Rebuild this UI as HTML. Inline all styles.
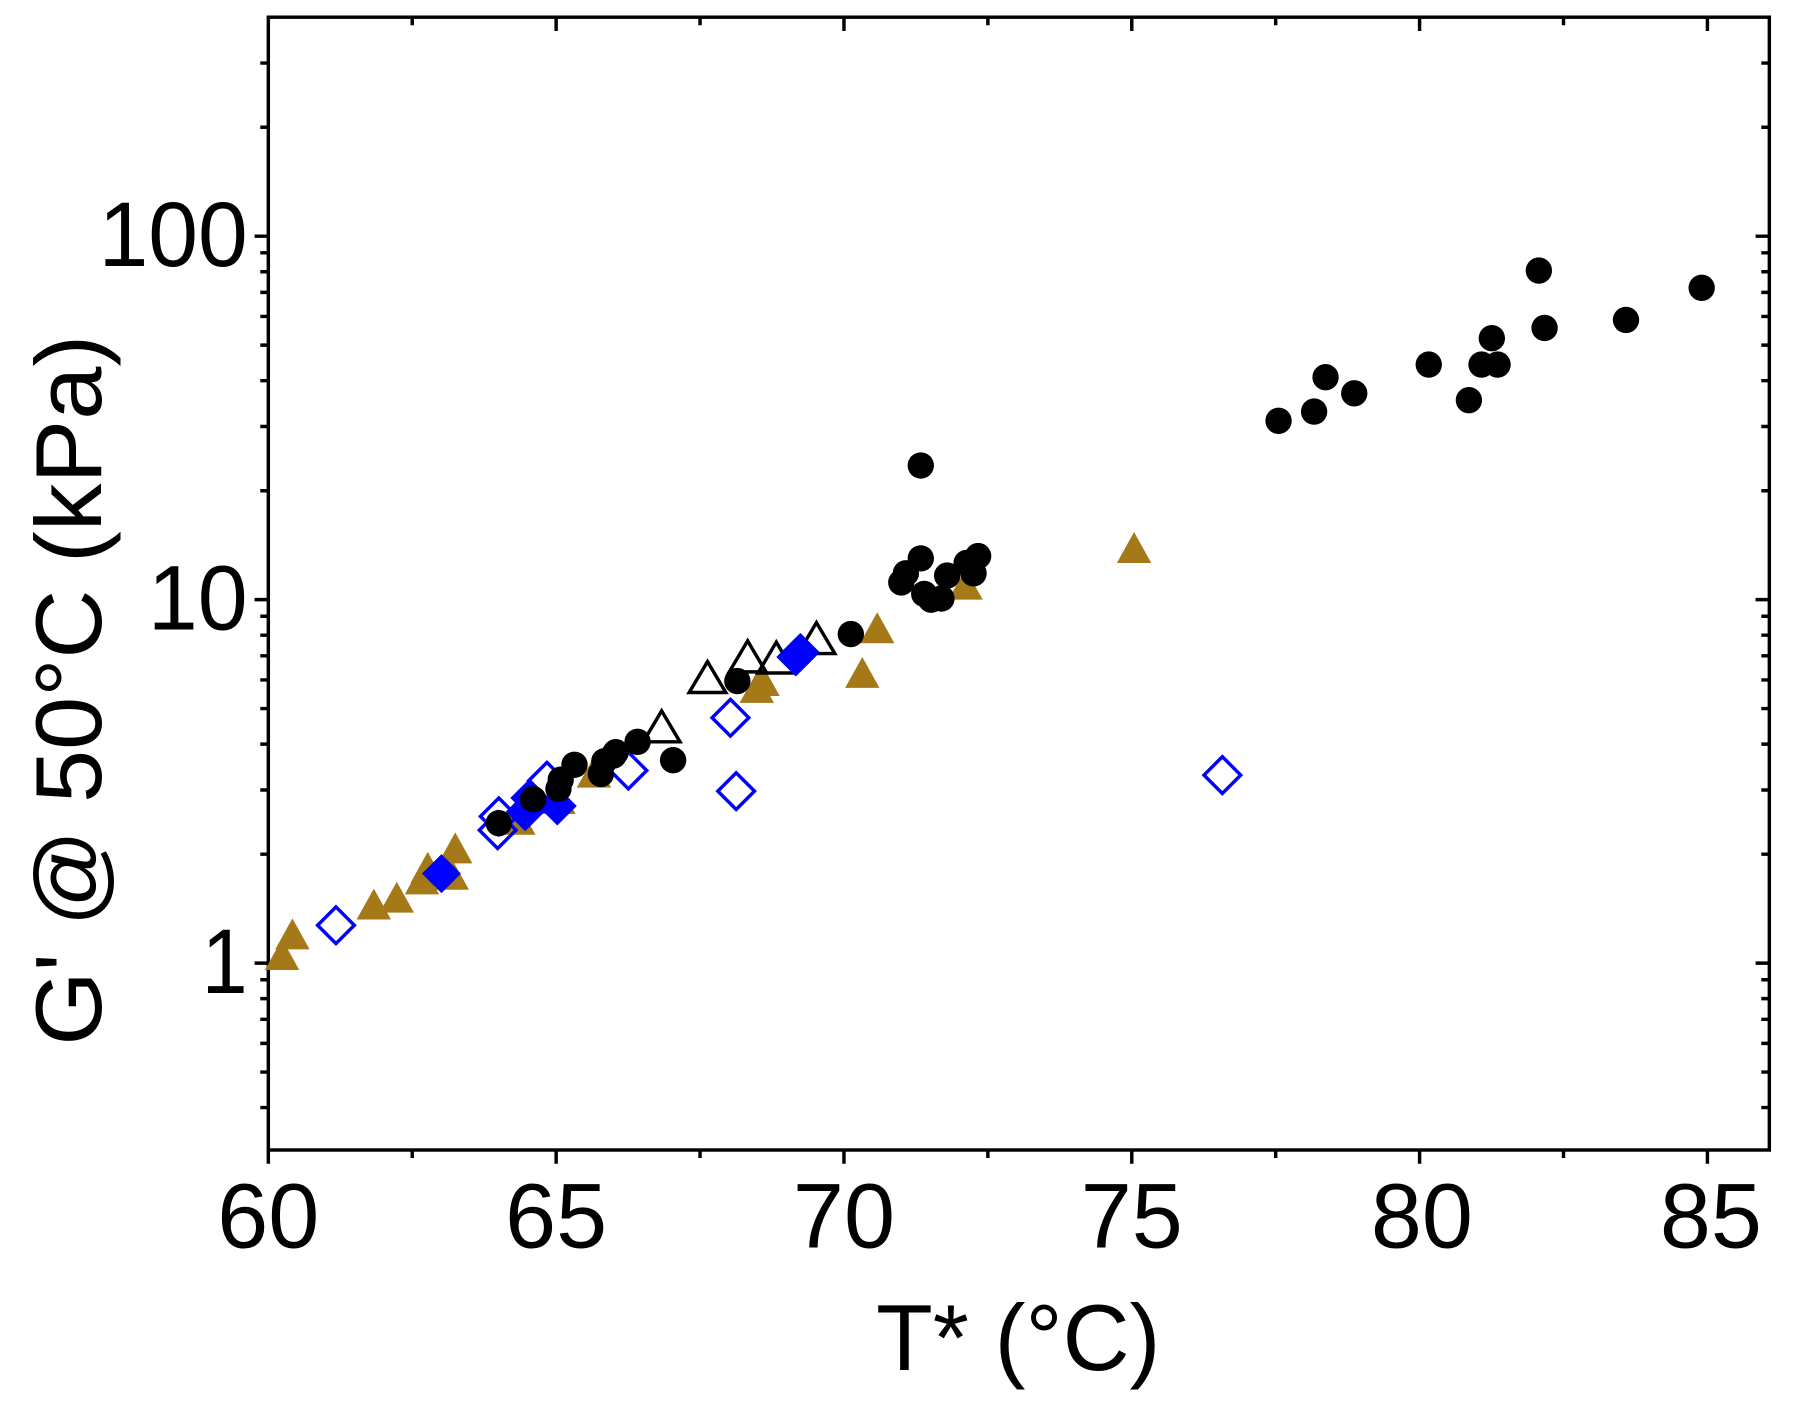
<!DOCTYPE html>
<html><head><meta charset="utf-8"><style>
html,body{margin:0;padding:0;background:#fff;}
svg{display:block;}
text{font-family:"Liberation Sans",Arial,sans-serif;fill:#000;}
</style></head><body>
<svg width="1798" height="1416" viewBox="0 0 1568 1235" preserveAspectRatio="none" xmlns="http://www.w3.org/2000/svg">
<defs>
<circle id="c" r="11.5" fill="#000"/>
<polygon id="tf" points="0,-17 15,10 -15,10" fill="#A57918"/>
<polygon id="to" points="0,-17 16,10 -16,10" fill="none" stroke="#000" stroke-width="3"/>
<polygon id="do" points="0,-16 16,0 0,16 -16,0" fill="none" stroke="#0000FF" stroke-width="3"/>
<polygon id="df" points="0,-17 17,0 0,17 -17,0" fill="#0000FF"/>
</defs>
<rect x="234" y="15" width="1309" height="988" fill="none" stroke="#000" stroke-width="3"/>
<path stroke="#000" stroke-width="3" fill="none" d="
M234,1003v12 M359.5,1003v7 M485,1003v12 M610.5,1003v7 M736,1003v12 M861.5,1003v7 M987,1003v12 M1112.5,1003v7 M1238,1003v12 M1363.5,1003v7 M1489,1003v12
M359.5,15v7 M485,15v12 M610.5,15v7 M736,15v12 M861.5,15v7 M987,15v12 M1112.5,15v7 M1238,15v12 M1363.5,15v7 M1489,15v12
M222,840h12 M222,523h12 M222,206h12
M227,966h7 M227,935h7 M227,910h7 M227,889h7 M227,871h7 M227,854.5h7
M227,745h7 M227,689h7 M227,649h7 M227,618h7 M227,593h7 M227,572h7 M227,554h7 M227,537.5h7
M227,428h7 M227,372h7 M227,332h7 M227,301h7 M227,276h7 M227,255h7 M227,237h7 M227,220.5h7
M227,111h7 M227,55h7
M1531,840h12 M1531,523h12 M1531,206h12
M1536,966h7 M1536,935h7 M1536,910h7 M1536,889h7 M1536,871h7 M1536,854.5h7
M1536,745h7 M1536,689h7 M1536,649h7 M1536,618h7 M1536,593h7 M1536,572h7 M1536,554h7 M1536,537.5h7
M1536,428h7 M1536,372h7 M1536,332h7 M1536,301h7 M1536,276h7 M1536,255h7 M1536,237h7 M1536,220.5h7
M1536,111h7 M1536,55h7
"/>
<g font-size="80">
<text x="216" y="232" text-anchor="end" textLength="130" lengthAdjust="spacingAndGlyphs">100</text>
<text x="216" y="549" text-anchor="end" textLength="87" lengthAdjust="spacingAndGlyphs">10</text>
<text x="216" y="866" text-anchor="end" textLength="40" lengthAdjust="spacingAndGlyphs">1</text>
</g>
<g font-size="80" text-anchor="middle">
<text x="234" y="1088">60</text>
<text x="485" y="1088">65</text>
<text x="736" y="1088">70</text>
<text x="987" y="1088">75</text>
<text x="1240" y="1088">80</text>
<text x="1492" y="1088">85</text>
</g>
<text x="888" y="1195" font-size="82" text-anchor="middle" textLength="248" lengthAdjust="spacingAndGlyphs">T* (°C)</text>
<text transform="translate(88,602) rotate(-90)" font-size="82" text-anchor="middle" textLength="620" lengthAdjust="spacingAndGlyphs">G' @ 50°C (kPa)</text>

<g>
<use href="#tf" x="246" y="836"/><use href="#tf" x="255" y="818"/><use href="#tf" x="326" y="792"/><use href="#tf" x="346" y="786"/><use href="#tf" x="368" y="770"/><use href="#tf" x="373" y="760"/><use href="#tf" x="397" y="743"/><use href="#tf" x="394" y="766"/><use href="#tf" x="452" y="718"/><use href="#tf" x="487" y="700"/><use href="#tf" x="518" y="677"/><use href="#tf" x="660" y="603"/><use href="#tf" x="665" y="597"/><use href="#tf" x="752" y="590"/><use href="#tf" x="765" y="551"/><use href="#tf" x="842" y="513"/><use href="#tf" x="989" y="481"/>
</g>
<g>
<use href="#to" x="577" y="637"/><use href="#to" x="617" y="594"/><use href="#to" x="652" y="576"/><use href="#to" x="677" y="577"/><use href="#to" x="712" y="560"/>
</g>
<g>
<use href="#do" x="293" y="807"/><use href="#do" x="434" y="724"/><use href="#do" x="435" y="712"/><use href="#do" x="477" y="681"/><use href="#do" x="548" y="672"/><use href="#do" x="637" y="626"/><use href="#do" x="642" y="690"/><use href="#do" x="1066" y="676"/>
</g>
<g>
<use href="#df" x="385" y="762"/><use href="#df" x="458" y="708"/><use href="#df" x="462" y="696"/><use href="#df" x="486" y="703"/><use href="#df" x="694" y="573"/><use href="#df" x="698" y="569"/>
</g>
<g>
<use href="#c" x="435" y="718"/><use href="#c" x="465" y="697"/><use href="#c" x="487" y="688"/><use href="#c" x="489" y="680"/><use href="#c" x="501" y="667"/><use href="#c" x="524" y="675"/><use href="#c" x="527" y="664"/><use href="#c" x="535" y="659"/><use href="#c" x="537" y="656"/><use href="#c" x="556" y="647"/><use href="#c" x="587" y="663"/><use href="#c" x="643" y="594"/><use href="#c" x="742" y="553"/><use href="#c" x="786" y="508"/><use href="#c" x="790" y="500"/><use href="#c" x="803" y="487"/><use href="#c" x="803" y="406"/><use href="#c" x="806" y="518"/><use href="#c" x="812" y="523"/><use href="#c" x="821" y="522"/><use href="#c" x="826" y="502"/><use href="#c" x="843" y="491"/><use href="#c" x="849" y="500"/><use href="#c" x="853" y="485"/><use href="#c" x="1115" y="367"/><use href="#c" x="1146" y="359"/><use href="#c" x="1156" y="329"/><use href="#c" x="1181" y="343"/><use href="#c" x="1246" y="318"/><use href="#c" x="1281" y="349"/><use href="#c" x="1292" y="318"/><use href="#c" x="1301" y="295"/><use href="#c" x="1306" y="318"/><use href="#c" x="1342" y="236"/><use href="#c" x="1347" y="286"/><use href="#c" x="1418" y="279"/><use href="#c" x="1484" y="251"/>
</g>
</svg>
</body></html>
